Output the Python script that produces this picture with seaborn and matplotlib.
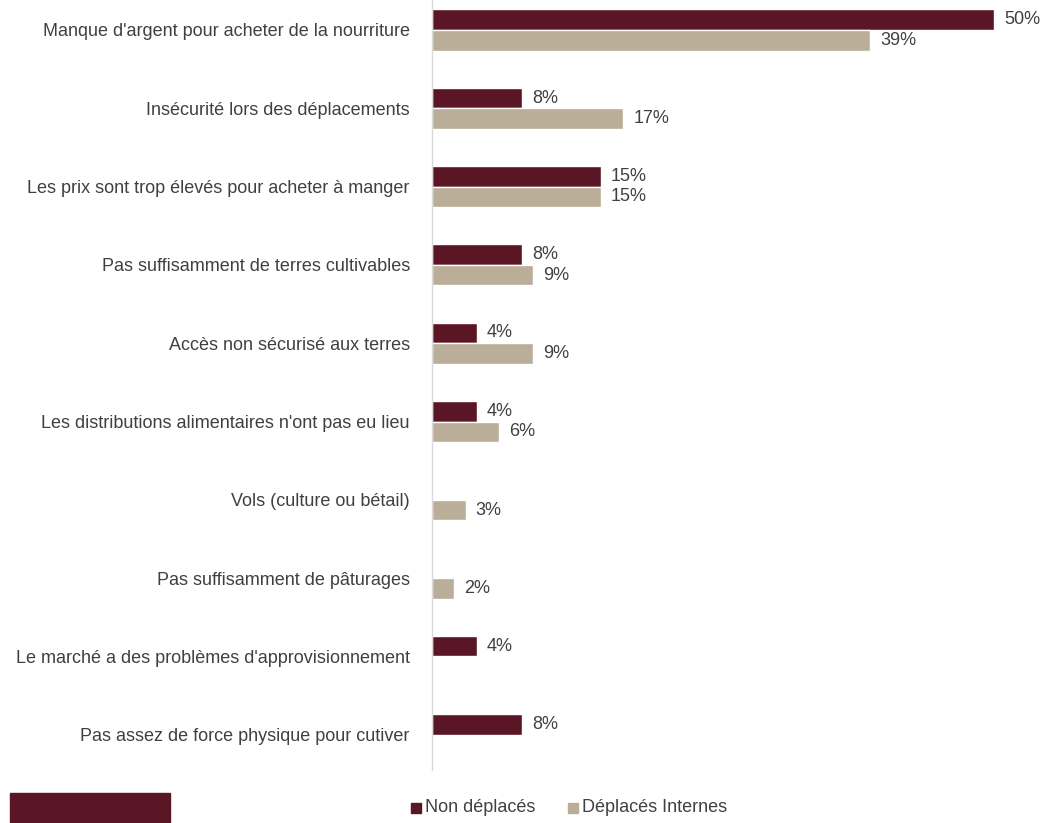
import matplotlib
matplotlib.use("Agg")
import matplotlib.pyplot as plt
import matplotlib.font_manager as fm
import seaborn as sns
import pandas as pd
import numpy as np
from matplotlib.patches import Rectangle

categories = [
    "Manque d'argent pour acheter de la nourriture",
    "Insécurité lors des déplacements",
    "Les prix sont trop élevés pour acheter à manger",
    "Pas suffisamment de terres cultivables",
    "Accès non sécurisé aux terres",
    "Les distributions alimentaires n'ont pas eu lieu",
    "Vols (culture ou bétail)",
    "Pas suffisamment de pâturages",
    "Le marché a des problèmes d'approvisionnement",
    "Pas assez de force physique pour cutiver",
]
non_deplaces = [50, 8, 15, 8, 4, 4, None, None, 4, 8]
deplaces = [39, 17, 15, 9, 9, 6, 3, 2, None, None]
series = ["Non déplacés", "Déplacés Internes"]
colors = ["#5A1624", "#BAAE98"]

sns.set_theme(style="white")
plt.rcParams["font.family"] = ["Liberation Sans", "DejaVu Sans"]
txt = "#404040"
fs = 13

rows = []
for c, a, b in zip(categories, non_deplaces, deplaces):
    rows.append({"cat": c, "grp": series[0], "val": a})
    rows.append({"cat": c, "grp": series[1], "val": b})
df = pd.DataFrame(rows)

fig = plt.figure(figsize=(10.41, 8.23), dpi=100)
ax = fig.add_axes([432/1041, 1 - 770/823, 1 - 432/1041, 770/823])
sns.barplot(data=df, y="cat", x="val", hue="grp", order=categories,
            hue_order=series, palette=colors, orient="h", width=0.524,
            ax=ax, legend=False, saturation=1)

ax.set_xlim(0, 54.2)
ax.set_ylim(9.45, -0.383)
ax.set_xlabel("")
ax.set_ylabel("")
ax.set_xticks([])
for s in ["top", "right", "bottom"]:
    ax.spines[s].set_visible(False)
ax.spines["left"].set_color("#D9D9D9")
ax.spines["left"].set_linewidth(1.0)
ax.tick_params(axis="y", length=0, pad=16, labelsize=fs, labelcolor=txt)

for cont in ax.containers:
    for bar in cont:
        w = bar.get_width()
        if w is None or np.isnan(w) or w == 0:
            continue
        y = bar.get_y() + bar.get_height() / 2
        ax.text(w + 0.9, y, f"{int(round(w))}%", va="center", ha="left",
                fontsize=fs, color=txt)

# legend
fig.patches.append(Rectangle((10/1041, 0), 160/1041, 30/823,
                             transform=fig.transFigure, color="#5A1624", zorder=0))
ly = 1 - 808/823
fig.patches.append(Rectangle((411/1041, ly - 5/823), 10/1041, 10/823,
                             transform=fig.transFigure, color=colors[0]))
fig.text(425/1041, ly, series[0], va="center", ha="left", fontsize=fs, color=txt)
fig.patches.append(Rectangle((568/1041, ly - 5/823), 10/1041, 10/823,
                             transform=fig.transFigure, color=colors[1]))
fig.text(582/1041, ly, series[1], va="center", ha="left", fontsize=fs, color=txt)

fig.savefig("out.png", dpi=100)
